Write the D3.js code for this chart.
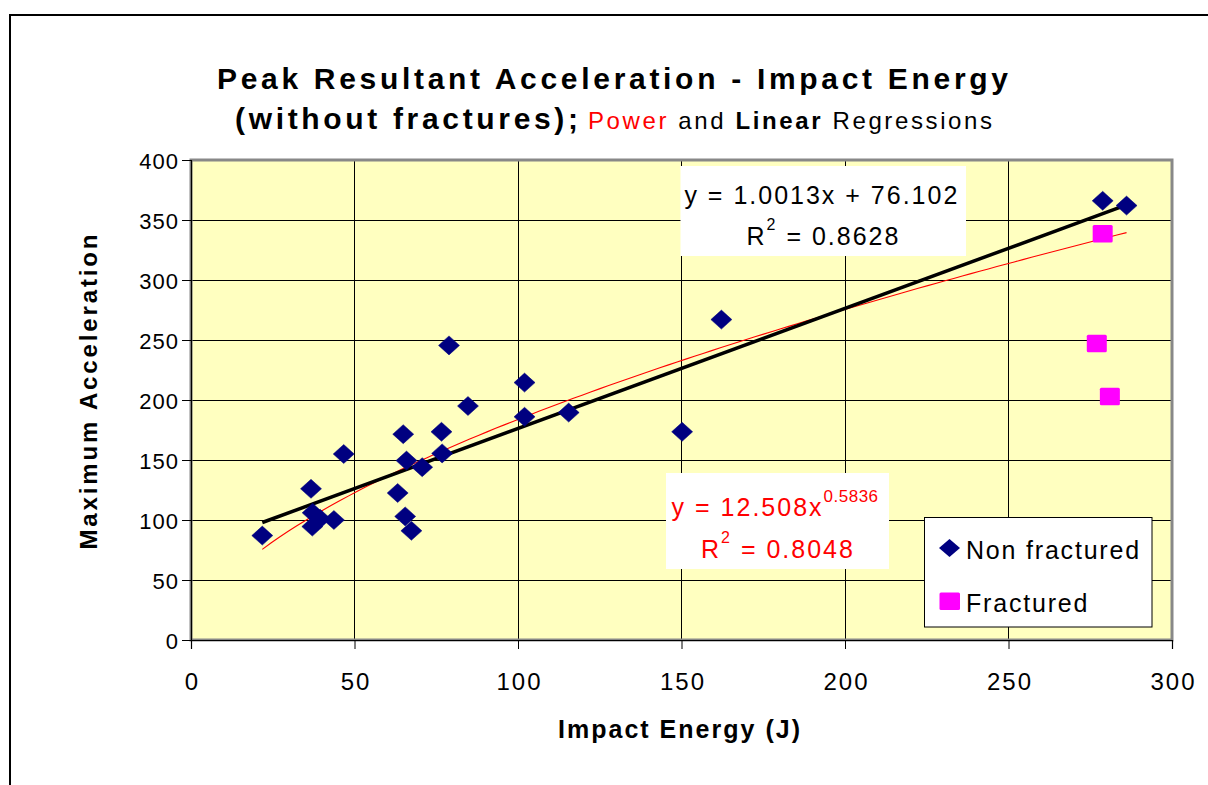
<!DOCTYPE html>
<html>
<head>
<meta charset="utf-8">
<script src="https://cdn.jsdelivr.net/npm/d3@7/dist/d3.min.js"></script>
<style>
  html, body { margin: 0; padding: 0; background: #fff; }
  svg { display: block; font-family: "Liberation Sans", Arial, sans-serif; }
</style>
</head>
<body>
<svg id="chart" width="1208" height="785"></svg>
<script>
// ---- Data ----
const nonFracturedX = [21.8, 36.7, 37.2, 39.5, 37.1, 43.7, 46.7, 63.2, 64.9, 65.9, 65.5, 67.4, 70.7, 76.6, 76.8, 78.9, 84.7, 102, 102, 115.5, 150.2, 162.2, 278.8, 286.1];
const nonFracturedY = [87, 126, 106, 101, 94.5, 100, 155, 122.5, 171.5, 149.5, 103, 91, 144, 173.5, 155.5, 245.5, 195, 214.5, 186, 189.5, 173.5, 267, 366, 362];
const fracturedX = [278.8, 277, 281];
const fracturedY = [338.5, 247, 203];
const xTicks = [0, 50, 100, 150, 200, 250, 300];
const yTicks = [0, 50, 100, 150, 200, 250, 300, 350, 400];
const linSlope = 1.0013, linIntercept = 76.102;
const powCoef = 12.508, powExp = 0.5836;
const titleLine1 = "Peak Resultant Acceleration - Impact Energy";
const legendLabels = ["Non fractured", "Fractured"];

// ---- Layout ----
const svg = d3.select("#chart");
const L = 191, R = 1172, T = 160, B = 640;
const x = d3.scaleLinear().domain([0, 300]).range([L, R]);
const y = d3.scaleLinear().domain([0, 400]).range([B, T]);

svg.append("rect").attr("width", 1208).attr("height", 785).attr("fill", "#fff");
svg.append("rect").attr("x", 10).attr("y", 15).attr("width", 1260).attr("height", 820)
  .attr("fill", "none").attr("stroke", "#000").attr("stroke-width", 2);

svg.append("rect").attr("x", L).attr("y", T).attr("width", R - L).attr("height", B - T)
  .attr("fill", "#FFFFC0");

svg.append("g").selectAll("line").data(yTicks.filter(d => d > 0 && d < 400)).join("line")
  .attr("x1", L).attr("x2", R).attr("y1", d => y(d)).attr("y2", d => y(d))
  .attr("stroke", "#000").attr("stroke-width", 1).attr("shape-rendering", "crispEdges");
svg.append("g").selectAll("line").data(xTicks.filter(d => d > 0 && d < 300)).join("line")
  .attr("y1", T).attr("y2", B).attr("x1", d => x(d)).attr("x2", d => x(d))
  .attr("stroke", "#000").attr("stroke-width", 1).attr("shape-rendering", "crispEdges");

svg.append("rect").attr("x", L).attr("y", T).attr("width", R - L).attr("height", B - T)
  .attr("fill", "none").attr("stroke", "#888").attr("stroke-width", 3);

const yAxis = d3.axisLeft(y).tickValues(yTicks).tickSize(9).tickFormat(d3.format("d"));
const xAxis = d3.axisBottom(x).tickValues(xTicks).tickSize(9).tickFormat(d3.format("d"));
const gy = svg.append("g").attr("transform", `translate(${L},0)`).call(yAxis);
const gx = svg.append("g").attr("transform", `translate(0,${B})`).call(xAxis);
[gy, gx].forEach(g => {
  g.select(".domain").attr("stroke", "#000").attr("stroke-width", 1.2);
  g.selectAll(".tick line").attr("stroke", "#000").attr("stroke-width", 1);
  g.selectAll(".tick text").attr("fill", "#000")
    .attr("font-family", "'Liberation Sans', Arial, sans-serif");
});
gy.selectAll(".tick text").attr("font-size", 22).attr("letter-spacing", "1px")
  .attr("x", -13 + 1).attr("dy", null).attr("y", 8).attr("text-anchor", "end");
gx.selectAll(".tick text").attr("font-size", 24).attr("letter-spacing", "2px")
  .attr("y", 50).attr("dy", null).attr("x", 1).attr("text-anchor", "middle");

// regression lines
const minX = d3.min(nonFracturedX), maxX = d3.max(nonFracturedX);
const lineGen = d3.line().x(d => x(d[0])).y(d => y(d[1]));
const powPts = d3.range(0, 101).map(i => {
  const xv = minX + (maxX - minX) * i / 100;
  return [xv, powCoef * Math.pow(xv, powExp)];
});
svg.append("path").attr("d", lineGen(powPts)).attr("fill", "none")
  .attr("stroke", "#FF0000").attr("stroke-width", 1.1);
svg.append("path").attr("d", lineGen([[minX, linSlope * minX + linIntercept], [maxX, linSlope * maxX + linIntercept]]))
  .attr("fill", "none").attr("stroke", "#000").attr("stroke-width", 3.5);

// markers
const diamond = (cx, cy, hw, hh) => `M${cx},${cy - hh}L${cx + hw},${cy}L${cx},${cy + hh}L${cx - hw},${cy}Z`;
const nfData = nonFracturedX.map((v, i) => [v, nonFracturedY[i]]);
const frData = fracturedX.map((v, i) => [v, fracturedY[i]]);
svg.append("g").selectAll("path").data(nfData).join("path")
  .attr("d", d => diamond(x(d[0]), y(d[1]), 10.5, 9.5))
  .attr("fill", "#000080").attr("stroke", "#000080").attr("stroke-width", 0.5).attr("stroke-linejoin", "round");
svg.append("g").selectAll("rect").data(frData).join("rect")
  .attr("x", d => x(d[0]) - 10).attr("y", d => y(d[1]) - 8.75)
  .attr("width", 20).attr("height", 17.5).attr("rx", 1.5)
  .attr("fill", "#FF00FF");

// equation boxes
svg.append("rect").attr("x", 680.5).attr("y", 166).attr("width", 285.5).attr("height", 90).attr("fill", "#fff");
svg.append("text").attr("x", 684.4).attr("y", 204).attr("font-size", 25).attr("letter-spacing", "2px")
  .attr("fill", "#000").text(`y = ${linSlope.toFixed(4)}x + ${linIntercept}`);
const r1 = svg.append("text").attr("x", 746.5).attr("y", 245).attr("font-size", 25).attr("letter-spacing", "2px").attr("fill", "#000");
r1.append("tspan").text("R");
r1.append("tspan").attr("dy", -15).attr("font-size", 16).text("2");
r1.append("tspan").attr("dy", 15).text(" = 0.8628");

svg.append("rect").attr("x", 666).attr("y", 473).attr("width", 223).attr("height", 96).attr("fill", "#fff");
const p1 = svg.append("text").attr("x", 671.6).attr("y", 516).attr("font-size", 25).attr("letter-spacing", "2px").attr("fill", "#FF0000");
p1.append("tspan").text(`y = ${powCoef}x`);
p1.append("tspan").attr("dy", -14).attr("font-size", 17).attr("letter-spacing", "0.5px").text(`${powExp}`);
const p2 = svg.append("text").attr("x", 701).attr("y", 558).attr("font-size", 25).attr("letter-spacing", "2px").attr("fill", "#FF0000");
p2.append("tspan").text("R");
p2.append("tspan").attr("dy", -15).attr("font-size", 16).text("2");
p2.append("tspan").attr("dy", 15).text(" = 0.8048");

// legend
svg.append("rect").attr("x", 924.5).attr("y", 517.5).attr("width", 227.5).attr("height", 109.5)
  .attr("fill", "#fff").attr("stroke", "#000").attr("stroke-width", 1);
svg.append("path").attr("d", diamond(949.5, 548, 10.5, 9)).attr("fill", "#000080");
svg.append("rect").attr("x", 939.5).attr("y", 592.5).attr("width", 20.5).attr("height", 17.5).attr("rx", 1.5).attr("fill", "#FF00FF");
svg.append("text").attr("x", 966).attr("y", 559).attr("font-size", 25).attr("letter-spacing", "1.8px").attr("fill", "#000").text(legendLabels[0]);
svg.append("text").attr("x", 966).attr("y", 612).attr("font-size", 25).attr("letter-spacing", "1.8px").attr("fill", "#000").text(legendLabels[1]);

// titles
svg.append("text").attr("x", 217).attr("y", 89).attr("font-size", 30).attr("font-weight", "bold")
  .attr("textLength", 791).attr("lengthAdjust", "spacing").attr("fill", "#000").text(titleLine1);
svg.append("text").attr("x", 235).attr("y", 129).attr("font-size", 30).attr("font-weight", "bold")
  .attr("textLength", 343).attr("lengthAdjust", "spacing").attr("fill", "#000").text("(without fractures);");
const t2 = svg.append("text").attr("x", 588).attr("y", 129).attr("font-size", 24)
  .attr("textLength", 404).attr("lengthAdjust", "spacing").attr("fill", "#000");
t2.append("tspan").attr("fill", "#FF0000").text("Power");
t2.append("tspan").text(" and ");
t2.append("tspan").attr("font-weight", "bold").text("Linear");
t2.append("tspan").text(" Regressions");

// axis titles
svg.append("text").attr("transform", "translate(97,392) rotate(-90)").attr("text-anchor", "middle")
  .attr("font-size", 24).attr("font-weight", "bold").attr("textLength", 315).attr("lengthAdjust", "spacing")
  .attr("fill", "#000").text("Maximum Acceleration");
svg.append("text").attr("x", 558).attr("y", 738).attr("font-size", 25).attr("font-weight", "bold")
  .attr("textLength", 242).attr("lengthAdjust", "spacing").attr("fill", "#000").text("Impact Energy (J)");
</script>
</body>
</html>
